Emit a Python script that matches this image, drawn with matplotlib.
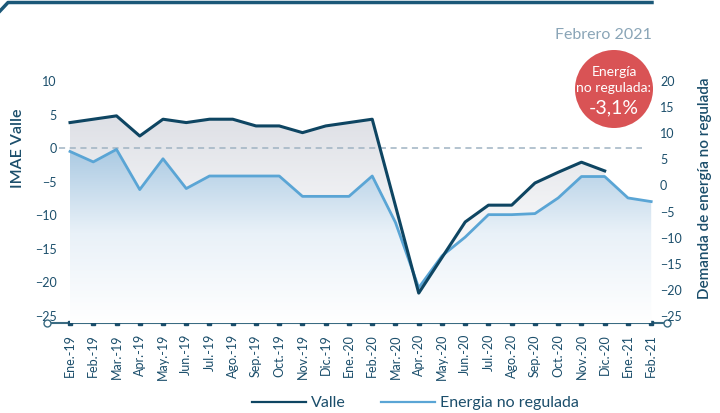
import numpy as np
import matplotlib
matplotlib.use("Agg")
import matplotlib.pyplot as plt
from matplotlib.colors import LinearSegmentedColormap
from matplotlib.lines import Line2D
from matplotlib.patches import Circle
from matplotlib.transforms import blended_transform_factory

plt.rcParams["font.family"] = ["Lato", "DejaVu Sans"]

months = ["Ene.-19", "Feb.-19", "Mar.-19", "Apr.-19", "May.-19", "Jun.-19", "Jul.-19",
          "Ago.-19", "Sep.-19", "Oct.-19", "Nov.-19", "Dic.-19", "Ene.-20", "Feb.-20",
          "Mar.-20", "Apr.-20", "May.-20", "Jun.-20", "Jul.-20", "Ago.-20", "Sep.-20",
          "Oct.-20", "Nov.-20", "Dic.-20", "Ene.-21", "Feb.-21"]

# IMAE Valle (left axis), Ene-19 .. Dic-20
valle = [3.8, 4.3, 4.8, 1.8, 4.3, 3.8, 4.3, 4.3, 3.3, 3.3, 2.3, 3.3, 3.8, 4.3,
         -8.6, -21.6, -16.3, -11.0, -8.5, -8.5, -5.2, -3.6, -2.1, -3.4]

# Demanda de energia no regulada (right axis), Ene-19 .. Feb-21
energia = [6.5, 4.5, 6.9, -0.8, 5.1, -0.6, 1.8, 1.8, 1.8, 1.8, -2.1, -2.1, -2.1, 1.8,
           -7.1, -19.6, -13.5, -9.9, -5.6, -5.6, -5.4, -2.4, 1.7, 1.7, -2.4, -3.1]

DARK = "#0e4562"
LIGHT = "#5aa5d5"
TXT = "#1b4e6b"


def grad_fill(ax, x, y, base, top, colors, z):
    tr = ax.transData
    poly = ax.fill_between(x, y, base, facecolor="none", edgecolor="none")
    path = poly.get_paths()[0]
    cmap = LinearSegmentedColormap.from_list("g", colors)
    g = np.linspace(0, 1, 256).reshape(-1, 1)
    im = ax.imshow(g, extent=[x[0], x[-1], base, top], origin="lower", cmap=cmap,
                   aspect="auto", zorder=z, interpolation="bilinear")
    im.set_clip_path(path, transform=tr)
    return im


fig = plt.figure(figsize=(7.2, 4.13), dpi=100)
ax = fig.add_axes([47 / 720, 90 / 413, 620 / 720, 253 / 413])
ax2 = ax.twinx()

xv = np.arange(len(valle))
xe = np.arange(len(energia))

ax.set_xlim(-0.99, 25.68)
ax.set_ylim(-26.05, 11.63)
ax2.set_ylim(-26.35, 22.1)

grad_fill(ax, xv, np.array(valle), -26.05, 6,
          ["#ffffff", "#f3f4f6", "#dcdee4"], 1)
grad_fill(ax2, xe, np.array(energia), -26.35, 8,
          ["#ffffff", "#e9f1f8", "#a6c7e1"], 1)

zero_tr = blended_transform_factory(ax.transAxes, ax.transData)
ax2.plot([0.02, 0.96], [0, 0], color="#9fb3c2", lw=1.1, ls=(0, (4, 3)),
         transform=zero_tr, zorder=2)
ax2.plot(xe, energia, color=LIGHT, lw=2, zorder=3)
ax2.plot(xv, valle, color=DARK, lw=2.2, zorder=4, transform=ax.transData)

ax.set_xlim(-0.99, 25.68)
ax.set_ylim(-26.05, 11.63)
ax2.set_ylim(-26.35, 22.1)

for a in (ax, ax2):
    for s in a.spines.values():
        s.set_visible(False)

ax.spines["bottom"].set_visible(True)
ax.spines["bottom"].set_color("#3a6b82")
ax.spines["bottom"].set_linewidth(1.5)
ax.plot([0, 1], [0, 0], transform=ax.transAxes, ls="none", marker="o", ms=5,
        mfc="white", mec="#3a6b82", mew=1, clip_on=False, zorder=5)
tick_tr = blended_transform_factory(ax.transData, ax.transAxes)
ax.plot(xe, np.zeros(len(xe)), transform=tick_tr, ls="none", marker="s", ms=2.5,
        color=TXT, clip_on=False, zorder=5)

ax.set_xticks(xe)
ax.set_xticklabels(months, rotation=90, fontsize=9, color=TXT)
ax.tick_params(axis="x", length=0, pad=8)

ax.set_yticks(np.arange(-25, 11, 5))
ax.tick_params(axis="y", length=0, pad=-7, labelsize=9, labelcolor=TXT)
ax2.set_yticks(np.arange(-25, 21, 5))
ax2.tick_params(axis="y", length=0, pad=-5, labelsize=9, labelcolor=TXT)

fig.text(18 / 720, 1 - 148 / 413, "IMAE Valle", rotation=90, ha="center", va="center",
         fontsize=11.5, color=TXT, fontweight="semibold")
fig.text(705 / 720, 1 - 188 / 413, "Demanda de energía no regulada", rotation=90,
         ha="center", va="center", fontsize=11, color=TXT, fontweight="semibold")

fig.text(652 / 720, 1 - 35 / 413, "Febrero 2021", ha="right", va="center",
         fontsize=11.5, color="#8aa5b7")

# header rule
fig.add_artist(Line2D([0 / 720, 8 / 720, 652 / 720], [1 - 11 / 413, 1 - 2.5 / 413, 1 - 2.5 / 413],
                      color="#1b5878", lw=2.5, transform=fig.transFigure))

# badge
ov = fig.add_axes([0, 0, 1, 1], zorder=10)
ov.set_xlim(0, 720)
ov.set_ylim(413, 0)
ov.axis("off")
ov.add_patch(Circle((614, 89), 39, color="#d95355", lw=0))
ov.text(614, 72, "Energía", ha="center", va="center", color="white", fontsize=10)
ov.text(614, 88, "no regulada:", ha="center", va="center", color="white", fontsize=10)
ov.text(614, 108, "-3,1%", ha="center", va="center", color="white", fontsize=14)

handles = [Line2D([0], [0], color=DARK, lw=1.6, label="Valle"),
           Line2D([0], [0], color=LIGHT, lw=1.6, label="Energia no regulada")]
leg = fig.legend(handles=handles, loc="center", bbox_to_anchor=(415 / 720, 1 - 403 / 413),
                 ncol=2, frameon=False, fontsize=11.5, handlelength=3.4, handletextpad=0.3,
                 columnspacing=2.2)
for t in leg.get_texts():
    t.set_color(TXT)

fig.savefig("out.png", dpi=100)
